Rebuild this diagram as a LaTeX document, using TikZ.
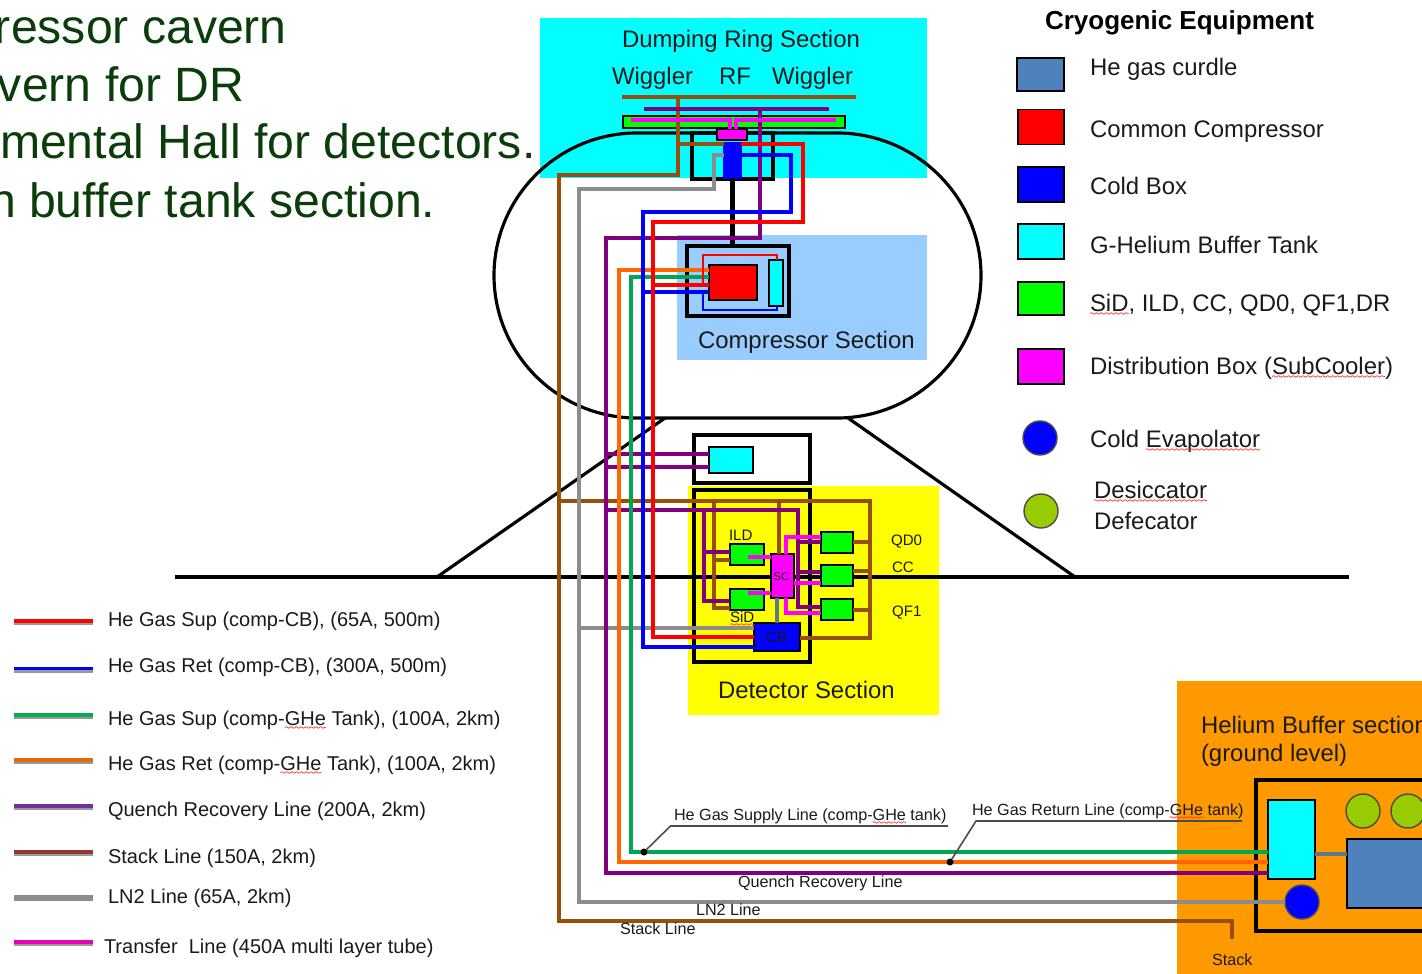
\documentclass[tikz,border=0pt]{standalone}
\usepackage{xcolor}
\usepackage{fontspec}
\setmainfont{Liberation Sans}
\usepackage{tikz}
\usetikzlibrary{decorations.pathmorphing}

\definecolor{stackbrown}{HTML}{964F0C}
\definecolor{lightsec}{HTML}{99CCFF}
\definecolor{heorange}{HTML}{FF9900}
\definecolor{curdleblue}{HTML}{4F81BD}
\definecolor{desgreen}{HTML}{99CC00}
\definecolor{gassup}{HTML}{00A651}
\definecolor{gasret}{HTML}{FF6600}
\definecolor{quench}{HTML}{800080}
\definecolor{lntwo}{HTML}{8C8C8C}
\definecolor{heading}{HTML}{0B3D0B}
\definecolor{labeltext}{HTML}{1A1A1A}
\definecolor{tankcyan}{HTML}{00FFFF}
\definecolor{boxmagenta}{HTML}{FF00FF}
\definecolor{detyellow}{HTML}{FFFF00}
\definecolor{keygreen}{HTML}{00B050}
\definecolor{keyorange}{HTML}{E36C0A}
\definecolor{keypurple}{HTML}{7030A0}
\definecolor{keybrown}{HTML}{953735}
\definecolor{keymagenta}{HTML}{E800B8}
\definecolor{linkgray}{HTML}{5B7A8C}

\newcommand{\spellmark}[1]{\tikz[baseline=(word.base)]{\node (word) {#1};
	\draw[overlay, red!80, line width=0.2pt, decorate, decoration={snake, amplitude=0.22pt, segment length=1.4pt}]
		([yshift=-0.7pt]word.base west) -- ([yshift=-0.7pt]word.base east);}}

\begin{document}
\begin{tikzpicture}[x=0.01cm, y=-0.01cm, line join=miter]
	\clip (0, 0) rectangle (1422, 973);
	\tikzstyle{every node}=[inner sep=0pt, outer sep=0pt, text=labeltext];
	\tikzstyle{sect}=[rectangle, minimum width=1cm];
	\tikzstyle{hall}=[rectangle, draw=black, line width=1pt];
	\tikzstyle{unit}=[rectangle, draw=black, line width=0.35pt];
	\tikzstyle{round unit}=[circle, draw=black!70, line width=0.4pt, minimum size=0.34cm];
	\tikzstyle{pipe}=[line width=1.15pt];
	\tikzstyle{thinpipe}=[line width=0.75pt];
	\tikzstyle{big}=[anchor=base west, font=\fontsize{6.8}{8}\selectfont];
	\tikzstyle{small}=[anchor=base west, font=\fontsize{4.6}{5.5}\selectfont];
	\tikzstyle{key}=[anchor=base west, font=\fontsize{5.69}{7}\selectfont];
	\tikzstyle{tag}=[anchor=base west, font=\fontsize{4.3}{5}\selectfont];
	\tikzstyle{headline}=[anchor=base west, text=heading, font=\fontsize{13.7}{16}\selectfont];
	\tikzstyle{leader}=[draw=black!70, line width=0.45pt];
	\tikzstyle{tapdot}=[circle, fill=black, minimum size=0.07cm];
	\tikzstyle{keyshadow}=[draw=black!40, line width=1pt];
	\tikzstyle{keyline}=[line width=0.9pt];

	%Heading
	\node[headline] (headA) at (-5, 44) {ressor cavern};
	\node[headline] (headB) at (-2, 102) {vern for DR};
	\node[headline] (headC) at (0, 159) {mental Hall for detectors.};
	\node[headline] (headD) at (-11, 217) {n buffer tank section.};

	%Sections
	\node[sect, fill=tankcyan, minimum width=3.87cm, minimum height=1.6cm] (dringsec) at (733.5, 98) {};
	\node[sect, fill=lightsec, minimum width=2.5cm, minimum height=1.25cm] (compsec) at (802, 297.5) {};
	\node[sect, fill=detyellow, minimum width=2.51cm, minimum height=2.29cm] (detsec) at (813.5, 600.5) {};
	\node[sect, fill=heorange, minimum width=2.53cm, minimum height=2.99cm] (helisec) at (1303.5, 830.5) {};

	%Ring and ground
	\draw[line width=0.9pt] (637, 133) -- (837, 133) .. controls (916, 133) and (981, 197) .. (981, 275.5)
		.. controls (981, 354) and (916, 418) .. (837, 418) -- (637, 418)
		.. controls (558, 418) and (494, 354) .. (494, 275.5) .. controls (494, 197) and (558, 133) .. (637, 133);
	\draw[line width=0.9pt] (175, 577) -- (1349, 577);
	\draw[line width=0.9pt] (437, 577) -- (665, 418);
	\draw[line width=0.9pt] (848, 418) -- (1075, 577);

	%Halls
	\node[hall, minimum width=0.81cm, minimum height=0.46cm] (drhall) at (732.5, 156) {};
	\node[hall, minimum width=1.02cm, minimum height=0.7cm, line width=1.2pt] (comphall) at (738, 281) {};
	\node[hall, minimum width=1.16cm, minimum height=0.48cm] (tankhall) at (752, 459) {};
	\node[hall, minimum width=1.16cm, minimum height=1.72cm] (dethall) at (752, 576) {};
	\node[hall, minimum width=1.94cm, minimum height=1.51cm] (helihall) at (1353, 855.5) {};

	%Units
	\node[unit, fill=green, minimum width=2.22cm, minimum height=0.12cm] (wiggler) at (734, 122) {};
	\node[unit, fill=boxmagenta, minimum width=0.3cm, minimum height=0.11cm] (distbox) at (732, 134.5) {};
	\node[unit, fill=blue, draw=blue, minimum width=0.17cm, minimum height=0.35cm] (coldbox) at (732.5, 160.5) {};
	\node[unit, fill=red, minimum width=0.48cm, minimum height=0.35cm] (compressor) at (733, 282.5) {};
	\node[unit, fill=tankcyan, minimum width=0.14cm, minimum height=0.46cm] (comptank) at (776, 283) {};
	\node[unit, fill=tankcyan, minimum width=0.44cm, minimum height=0.26cm] (halltank) at (731, 460) {};
	\node[unit, fill=green, minimum width=0.34cm, minimum height=0.21cm] (ild) at (747, 554.5) {};
	\node[unit, fill=green, minimum width=0.34cm, minimum height=0.21cm] (sid) at (747, 599.5) {};
	\node[unit, fill=green, minimum width=0.32cm, minimum height=0.21cm] (qdzero) at (837, 542.5) {};
	\node[unit, fill=green, minimum width=0.32cm, minimum height=0.21cm] (crab) at (837, 575.5) {};
	\node[unit, fill=green, minimum width=0.32cm, minimum height=0.21cm] (qfone) at (837, 609.5) {};
	\node[unit, fill=boxmagenta, minimum width=0.23cm, minimum height=0.44cm] (subcool) at (782.5, 576) {};
	\node[unit, fill=blue, minimum width=0.46cm, minimum height=0.28cm] (detcold) at (777, 637) {};
	\node[unit, fill=tankcyan, minimum width=0.47cm, minimum height=0.79cm] (hetank) at (1291.5, 839.5) {};
	\node[unit, fill=curdleblue, minimum width=1.03cm, minimum height=0.69cm] (curdle) at (1398.5, 873.5) {};
	\node[round unit, fill=blue] (evap) at (1302, 902) {};
	\node[round unit, fill=desgreen] (desA) at (1363, 811) {};
	\node[round unit, fill=desgreen] (desB) at (1408, 811) {};

	%Link between cold box and compressor
	\draw[line width=1.15pt] (coldbox.south) -- (coldbox.south |- comphall.north);
	\draw[line width=1pt, linkgray] (hetank.east |- 0, 854) -- (curdle.west |- 0, 854);
	\draw[line width=1pt, linkgray] (subcool.south -| 777, 0) -- (detcold.north -| 777, 0);

	%Stack line
	\draw[pipe, stackbrown] (622, 97) -- (856, 97);
	\draw[pipe, stackbrown] (coldbox.west |- 0, 144) -- (678, 144);
	\draw[pipe, stackbrown] (678, 97) -- (678, 175) -- (559, 175) -- (559, 921) -- (1232, 921) -- (1232, 939);
	\draw[pipe, stackbrown] (559, 501) -- (870, 501) -- (870, 638) -- (detcold.east |- 0, 638);
	\draw[pipe, stackbrown] (714, 501) -- (714, 608) -- (sid.west |- 0, 608);
	\draw[pipe, stackbrown] (714, 560) -- (ild.west |- 0, 560);
	\draw[pipe, stackbrown] (779, 501) -- (subcool.north -| 779, 0);
	\draw[pipe, stackbrown] (qdzero.east |- 0, 542) -- (870, 542);
	\draw[pipe, stackbrown] (crab.east |- 0, 571) -- (870, 571);
	\draw[pipe, stackbrown] (qfone.east |- 0, 610) -- (870, 610);

	%LN2 line
	\draw[pipe, lntwo] (coldbox.west |- 0, 155) -- (714, 155) -- (714, 189) -- (579, 189) -- (579, 902) -- (evap.west);
	\draw[pipe, lntwo] (579, 628) -- (detcold.west |- 0, 628);

	%Quench line
	\draw[pipe, quench] (644, 109) -- (829, 109);
	\draw[pipe, quench] (760, 109) -- (760, 238) -- (606, 238) -- (606, 873) -- (hetank.west |- 0, 873);
	\draw[pipe, quench] (606, 454) -- (halltank.west |- 0, 454);
	\draw[pipe, quench] (606, 467) -- (halltank.west |- 0, 467);
	\draw[pipe, quench] (606, 510) -- (798, 510) -- (798, 607) -- (qfone.west |- 0, 607);
	\draw[pipe, quench] (798, 542) -- (qdzero.west |- 0, 542);
	\draw[pipe, quench] (798, 572) -- (crab.west |- 0, 572);
	\draw[pipe, quench] (704, 510) -- (704, 601) -- (sid.west |- 0, 601);
	\draw[pipe, quench] (704, 552) -- (ild.west |- 0, 552);

	%Gas return to tank
	\draw[pipe, gasret] (compressor.west |- 0, 270) -- (619, 270) -- (619, 862) -- (hetank.west |- 0, 862);

	%Gas supply to tank
	\draw[pipe, gassup] (compressor.west |- 0, 277) -- (631, 277) -- (631, 852) -- (hetank.west |- 0, 852);

	%Gas return to cold box
	\draw[pipe, blue] (coldbox.east |- 0, 155) -- (791, 155) -- (791, 212) -- (643, 212) -- (643, 647) -- (detcold.west |- 0, 647);
	\draw[pipe, blue] (643, 292) -- (compressor.west |- 0, 292);
	\draw[thinpipe, blue] (703, 292) -- (703, 310) -- (777, 310) -- (comptank.south -| 777, 0);

	%Gas supply to cold box
	\draw[pipe, red] (coldbox.east |- 0, 144) -- (803, 144) -- (803, 222) -- (653, 222) -- (653, 637) -- (detcold.west |- 0, 637);
	\draw[pipe, red] (653, 285) -- (compressor.west |- 0, 285);
	\draw[thinpipe, red] (703, 285) -- (703, 255) -- (777, 255) -- (comptank.north -| 777, 0);

	%Transfer line
	\draw[boxmagenta, line width=0.9pt] (distbox.north -| 730, 0) -- (730, 120) -- (631, 120);
	\draw[boxmagenta, line width=0.9pt] (distbox.north -| 736, 0) -- (736, 120) -- (836, 120);
	\draw[boxmagenta, line width=0.9pt] (748, 557) -- (subcool.west |- 0, 557);
	\draw[boxmagenta, line width=0.9pt] (748, 593) -- (subcool.west |- 0, 593);
	\draw[boxmagenta, line width=0.9pt] (subcool.north -| 786, 0) -- (786, 537) -- (qdzero.west |- 0, 537);
	\draw[boxmagenta, line width=0.9pt] (subcool.east |- 0, 583) -- (crab.west |- 0, 583);
	\draw[boxmagenta, line width=0.9pt] (subcool.south -| 786, 0) -- (786, 613) -- (qfone.west |- 0, 613);

	%Section labels
	\node[big] (dringlbl) at (622, 48) {Dumping Ring Section};
	\node[big] (wigA) at (612, 85) {Wiggler};
	\node[big] (rflbl) at (719, 85) {RF};
	\node[big] (wigB) at (772, 85) {Wiggler};
	\node[big] (complbl) at (698, 348) {Compressor Section};
	\node[big] (detlbl) at (718, 698) {Detector Section};
	\node[big] (helilblA) at (1201, 733) {Helium Buffer section};
	\node[big] (helilblB) at (1201, 761) {(ground level)};

	%Detector labels
	\node[tag] (ildlbl) at (729, 540) {ILD};
	\node[tag] (sidlbl) at (730, 622) {\spellmark{SiD}};
	\node[tag] (qdlbl) at (891, 545) {QD0};
	\node[tag] (cclbl) at (892, 572) {CC};
	\node[tag] (qflbl) at (892, 616) {QF1};
	\node[tag] (cblbl) at (766, 642) {CB};
	\node[tag, font=\fontsize{3.2}{4}\selectfont] (sclbl) at (773.5, 580) {SC};

	%Line labels
	\node[small] (suplbl) at (674, 820) {He Gas Supply Line (comp-\spellmark{GHe} tank)};
	\node[small] (retlbl) at (972, 815) {He Gas Return Line (comp-\spellmark{GHe} tank)};
	\node[small] (quenchlbl) at (738, 887) {Quench Recovery Line};
	\node[small] (lnlbl) at (696, 915) {LN2 Line};
	\node[small] (stacklbl) at (620, 934) {Stack Line};
	\node[small] (stackend) at (1212, 965) {Stack};
	\node[tapdot] (supdot) at (644, 852) {};
	\node[tapdot] (retdot) at (950, 862) {};
	\draw[leader] (supdot) -- (670.5, 826) -- (948, 826);
	\draw[leader] (retdot) -- (976, 821) -- (1242, 821);

	%Line key
	\draw[keyshadow] (14, 623.5) -- (93, 623.5);
	\draw[keyline, red] (14, 621) -- (93, 621);
	\node[key] (keyA) at (108, 626) {He Gas Sup (comp-CB), (65A, 500m)};
	\draw[keyshadow] (14, 671) -- (93, 671);
	\draw[keyline, blue] (14, 668.5) -- (93, 668.5);
	\node[key] (keyB) at (108, 672) {He Gas Ret (comp-CB), (300A, 500m)};
	\draw[keyshadow] (14, 717.5) -- (93, 717.5);
	\draw[keyline, keygreen] (14, 715) -- (93, 715);
	\node[key] (keyC) at (108, 725) {He Gas Sup (comp-\spellmark{GHe} Tank), (100A, 2km)};
	\draw[keyshadow] (14, 762.5) -- (93, 762.5);
	\draw[keyline, keyorange] (14, 760) -- (93, 760);
	\node[key] (keyD) at (108, 770) {He Gas Ret (comp-\spellmark{GHe} Tank), (100A, 2km)};
	\draw[keyshadow] (14, 808.5) -- (93, 808.5);
	\draw[keyline, keypurple] (14, 806) -- (93, 806);
	\node[key] (keyE) at (108, 816) {Quench Recovery Line (200A, 2km)};
	\draw[keyshadow] (14, 854.5) -- (93, 854.5);
	\draw[keyline, keybrown] (14, 852) -- (93, 852);
	\node[key] (keyF) at (108, 863) {Stack Line (150A, 2km)};
	\draw[draw=black!45, line width=1.6pt] (14, 898) -- (93, 898);
	\node[key] (keyG) at (108, 903) {LN2 Line (65A, 2km)};
	\draw[keyshadow] (14, 944.5) -- (93, 944.5);
	\draw[keyline, keymagenta] (14, 942) -- (93, 942);
	\node[key] (keyH) at (104, 953) {Transfer\ \ Line (450A multi layer tube)};

	%Cryogenic Equipment
	\node[anchor=base west, font=\bfseries\fontsize{7.4}{9}\selectfont, text=black] (cryotitle) at (1045, 30) {Cryogenic Equipment};
	\node[unit, fill=curdleblue, minimum width=0.47cm, minimum height=0.33cm] (swcurdle) at (1040.5, 74.5) {};
	\node[big] (lgcurdle) at (1090, 76) {He gas curdle};
	\node[unit, fill=red, minimum width=0.46cm, minimum height=0.35cm] (swcomp) at (1041, 127) {};
	\node[big] (lgcomp) at (1090, 138) {Common Compressor};
	\node[unit, fill=blue, minimum width=0.46cm, minimum height=0.35cm] (swcold) at (1041, 184.5) {};
	\node[big] (lgcold) at (1090, 195) {Cold Box};
	\node[unit, fill=tankcyan, minimum width=0.46cm, minimum height=0.35cm] (swtank) at (1041, 241.5) {};
	\node[big] (lgtank) at (1090, 253) {G-Helium Buffer Tank};
	\node[unit, fill=green, minimum width=0.46cm, minimum height=0.33cm] (swsid) at (1041, 298.5) {};
	\node[big] (lgsid) at (1090, 311) {\spellmark{SiD}, ILD, CC, QD0, QF1,DR};
	\node[unit, fill=boxmagenta, minimum width=0.46cm, minimum height=0.35cm] (swdist) at (1041, 366.5) {};
	\node[big] (lgdist) at (1090, 374) {Distribution Box (\spellmark{SubCooler})};
	\node[round unit, fill=blue] (swevap) at (1040, 438) {};
	\node[big] (lgevap) at (1090, 447) {Cold \spellmark{Evapolator}};
	\node[round unit, fill=desgreen] (swdes) at (1041, 511) {};
	\node[big] (lgdes) at (1094, 498) {\spellmark{Desiccator}};
	\node[big] (lgdef) at (1094, 529) {Defecator};
\end{tikzpicture}
\end{document}
